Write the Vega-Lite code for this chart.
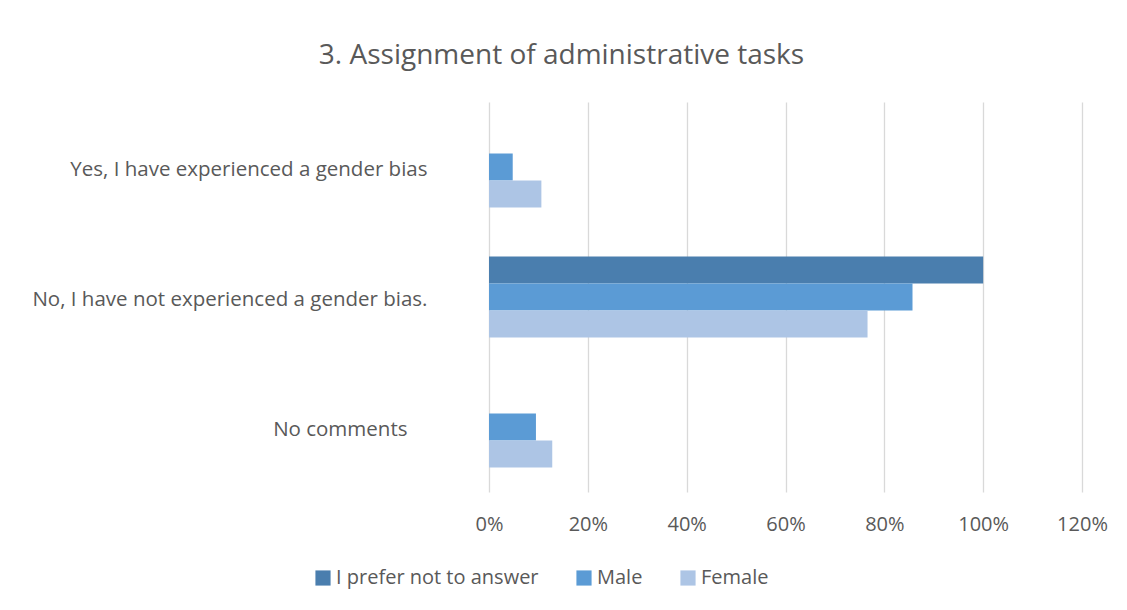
{
  "$schema": "https://vega.github.io/schema/vega-lite/v6.json",
  "autosize": "none",
  "padding": {"left": 489, "top": 102, "right": 45, "bottom": 118},
  "width": 593,
  "height": 390,
  "background": "white",
  "title": {
    "text": "3. Assignment of administrative tasks",
    "font": "Open Sans",
    "fontSize": 28,
    "fontWeight": "normal",
    "color": "#595959",
    "anchor": "middle",
    "dx": -224,
    "offset": 32
  },
  "data": {
    "values": [
      {"answer": "Yes, I have experienced a gender bias", "group": "I prefer not to answer", "share": 0},
      {"answer": "Yes, I have experienced a gender bias", "group": "Male", "share": 0.048},
      {"answer": "Yes, I have experienced a gender bias", "group": "Female", "share": 0.106},
      {"answer": "No, I have not experienced a gender bias.", "group": "I prefer not to answer", "share": 1.0},
      {"answer": "No, I have not experienced a gender bias.", "group": "Male", "share": 0.857},
      {"answer": "No, I have not experienced a gender bias.", "group": "Female", "share": 0.766},
      {"answer": "No comments", "group": "I prefer not to answer", "share": 0},
      {"answer": "No comments", "group": "Male", "share": 0.095},
      {"answer": "No comments", "group": "Female", "share": 0.128}
    ]
  },
  "mark": {"type": "bar"},
  "encoding": {
    "y": {
      "field": "answer",
      "type": "nominal",
      "sort": ["Yes, I have experienced a gender bias", "No, I have not experienced a gender bias.", "No comments"],
      "scale": {"paddingInner": 0.377, "paddingOuter": 0.1885},
      "axis": {
        "title": null,
        "domain": false,
        "ticks": false,
        "labelFont": "Open Sans",
        "labelFontSize": 20.5,
        "labelColor": "#595959",
        "labelLimit": 0,
        "labelOffset": 3,
        "labelPadding": {"condition": {"test": "datum.value == 'No comments'", "value": 82}, "value": 62}
      }
    },
    "yOffset": {
      "field": "group",
      "type": "nominal",
      "sort": ["I prefer not to answer", "Male", "Female"]
    },
    "x": {
      "field": "share",
      "type": "quantitative",
      "scale": {"domain": [0, 1.2], "nice": false},
      "axis": {
        "title": null,
        "format": ".0%",
        "values": [0, 0.2, 0.4, 0.6, 0.8, 1.0, 1.2],
        "domain": false,
        "ticks": false,
        "grid": true,
        "gridColor": "#d9d9d9",
        "gridWidth": 1.3,
        "labelFlush": false,
        "labelFont": "Open Sans",
        "labelFontSize": 20,
        "labelColor": "#595959",
        "labelPadding": 22
      }
    },
    "color": {
      "field": "group",
      "type": "nominal",
      "sort": ["I prefer not to answer", "Male", "Female"],
      "scale": {
        "domain": ["I prefer not to answer", "Male", "Female"],
        "range": ["#4a7eae", "#5b9bd5", "#adc5e5"]
      },
      "legend": {
        "title": null,
        "orient": "none",
        "direction": "horizontal",
        "legendX": -176,
        "legendY": 466,
        "symbolType": "square",
        "symbolSize": 230,
        "symbolStrokeWidth": 0,
        "labelFont": "Open Sans",
        "labelFontSize": 20,
        "labelColor": "#595959",
        "labelLimit": 0,
        "labelOffset": 3,
        "columnPadding": 35
      }
    }
  },
  "config": {
    "view": {"stroke": null}
  }
}
